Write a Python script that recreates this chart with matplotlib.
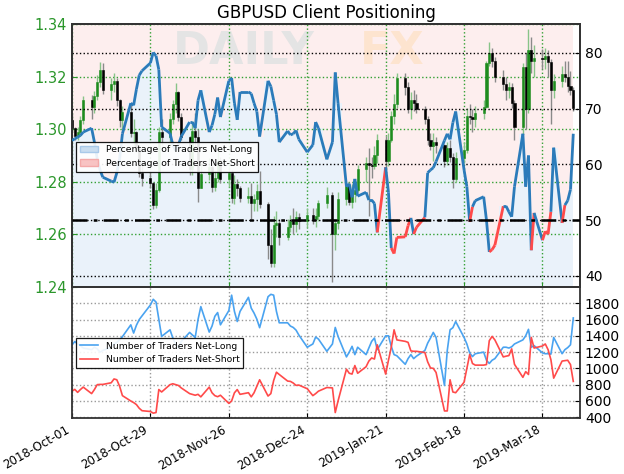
import numpy as np
import pandas as pd
import matplotlib
matplotlib.use("Agg")
import matplotlib.pyplot as plt
import matplotlib.dates as mdates
from matplotlib.collections import LineCollection
from matplotlib.patches import Patch
from matplotlib.lines import Line2D

# trading days on the chart (25 Dec and 1 Jan are missing)
days = pd.bdate_range("2018-10-01", "2019-03-29")
days = days[~days.isin(pd.to_datetime(["2018-12-25", "2019-01-01"]))]

first_open = 1.3035
close = [1.3005, 1.2975, 1.2990, 1.3035, 1.3110,
         1.3085, 1.3125, 1.3180, 1.3225, 1.3150,
         1.3170, 1.3185, 1.3110, 1.3035, 1.3065,
         1.2985, 1.2990, 1.2925, 1.2835, 1.2815,
         1.2795, 1.2710, 1.2770, 1.2990, 1.2970,
         1.3040, 1.3095, 1.3140, 1.3045, 1.2970,
         1.2850, 1.2995, 1.2970, 1.2775, 1.2830,
         1.2855, 1.2780, 1.2815, 1.2880, 1.2810,
         1.2835, 1.2740, 1.2790, 1.2775, 1.2740,
         1.2745, 1.2720, 1.2735, 1.2765, 1.2715,
         1.2560, 1.2490, 1.2635, 1.2645, 1.2590,
         1.2630, 1.2650, 1.2640, 1.2665, 1.2650,
         1.2675, 1.2660, 1.2670, 1.2720,
         1.2750, 1.2600, 1.2645, 1.2735,
         1.2785, 1.2725, 1.2755, 1.2770, 1.2850,
         1.2870, 1.2865, 1.2860, 1.2900, 1.2960,
         1.2880, 1.2960, 1.3050, 1.3095, 1.3195,
         1.3160, 1.3075, 1.3110, 1.3100, 1.3075,
         1.3040, 1.2960, 1.2935, 1.2950, 1.2940,
         1.2880, 1.2930, 1.2895, 1.2810, 1.2890,
         1.2920, 1.3050, 1.3045, 1.3040, 1.3060,
         1.3085, 1.3250, 1.3290, 1.3260, 1.3200,
         1.3170, 1.3150, 1.3160, 1.3100, 1.3010,
         1.3235, 1.3075, 1.3300, 1.3260, 1.3270,
         1.3265, 1.3280, 1.3255, 1.3150, 1.3185,
         1.3210, 1.3200, 1.3165, 1.3150, 1.3080]
high = [1.3060, 1.3010, 1.3010, 1.3050, 1.3125,
        1.3130, 1.3145, 1.3205, 1.3255, 1.3250,
        1.3195, 1.3215, 1.3195, 1.3115, 1.3090,
        1.3095, 1.3040, 1.2995, 1.2930, 1.2865,
        1.2840, 1.2800, 1.2795, 1.3010, 1.3040,
        1.3060, 1.3110, 1.3175, 1.3145, 1.3060,
        1.2975, 1.3030, 1.3060, 1.3000, 1.2870,
        1.2890, 1.2875, 1.2840, 1.2930, 1.2895,
        1.2860, 1.2845, 1.2825, 1.2810, 1.2785,
        1.2780, 1.2795, 1.2755, 1.2790, 1.2840,
        1.2725, 1.2620, 1.2670, 1.2690, 1.2660,
        1.2660, 1.2675, 1.2700, 1.2690, 1.2680,
        1.2700, 1.2700, 1.2700, 1.2730,
        1.2780, 1.2760, 1.2660, 1.2760,
        1.2800, 1.2800, 1.2790, 1.2800, 1.2865,
        1.2895, 1.2930, 1.2895, 1.2935, 1.2980,
        1.2975, 1.2985, 1.3070, 1.3135, 1.3215,
        1.3215, 1.3180, 1.3140, 1.3150, 1.3135,
        1.3090, 1.3050, 1.2985, 1.2985, 1.2970,
        1.2945, 1.2950, 1.2960, 1.2910, 1.2915,
        1.2950, 1.3080, 1.3095, 1.3075, 1.3090,
        1.3110, 1.3260, 1.3330, 1.3310, 1.3275,
        1.3225, 1.3200, 1.3180, 1.3175, 1.3110,
        1.3250, 1.3290, 1.3380, 1.3350, 1.3320,
        1.3305, 1.3310, 1.3300, 1.3265, 1.3210,
        1.3240, 1.3260, 1.3260, 1.3220, 1.3160]
low = [1.2990, 1.2960, 1.2960, 1.2975, 1.3020,
       1.3040, 1.3060, 1.3110, 1.3160, 1.3135,
       1.3110, 1.3140, 1.3090, 1.3010, 1.3000,
       1.2970, 1.2935, 1.2915, 1.2820, 1.2785,
       1.2775, 1.2695, 1.2700, 1.2760, 1.2940,
       1.2935, 1.3020, 1.3060, 1.3030, 1.2960,
       1.2825, 1.2825, 1.2930, 1.2725, 1.2775,
       1.2805, 1.2760, 1.2765, 1.2800, 1.2795,
       1.2780, 1.2720, 1.2715, 1.2745, 1.2725,
       1.2720, 1.2660, 1.2690, 1.2690, 1.2700,
       1.2505, 1.2475, 1.2475, 1.2590, 1.2560,
       1.2580, 1.2610, 1.2600, 1.2610, 1.2620,
       1.2630, 1.2640, 1.2630, 1.2650,
       1.2700, 1.2420, 1.2540, 1.2620,
       1.2710, 1.2710, 1.2700, 1.2725, 1.2760,
       1.2800, 1.2670, 1.2815, 1.2850, 1.2870,
       1.2850, 1.2860, 1.2950, 1.3020, 1.3080,
       1.3130, 1.3060, 1.3040, 1.3070, 1.3060,
       1.3020, 1.2940, 1.2920, 1.2880, 1.2910,
       1.2855, 1.2865, 1.2875, 1.2775, 1.2800,
       1.2870, 1.2910, 1.3020, 1.2990, 1.3010,
       1.3040, 1.3080, 1.3240, 1.3235, 1.3180,
       1.3150, 1.3110, 1.3120, 1.3080, 1.2960,
       1.2980, 1.3000, 1.3060, 1.3215, 1.3200,
       1.3230, 1.3230, 1.3200, 1.3020, 1.3120,
       1.3160, 1.3180, 1.3140, 1.3130, 1.3070]

# % of traders net-long
pct_long = [64.3, 64.6, 64.9, 65.2, 65.8,
            66.5, 64.0, 61.0, 59.0, 57.7,
            57.0, 56.8, 58.5, 61.0, 65.5,
            71.0, 70.6, 73.5, 76.0, 76.8,
            78.2, 80.1, 79.5, 77.0, 66.7,
            65.6, 63.5, 62.5, 63.5, 65.0,
            67.6, 67.6, 66.5, 71.5, 73.3,
            65.8, 67.0, 69.0, 72.0, 68.5,
            75.0, 75.5, 71.0, 68.0, 73.0,
            73.0, 72.7, 71.0, 69.5, 65.0,
            75.0, 74.0, 71.5, 69.0, 64.0,
            66.0, 65.3, 65.5, 66.1, 64.5,
            62.2, 63.5, 67.6, 66.5,
            60.9, 64.0, 76.5, 71.0,
            56.0, 56.5, 54.1, 57.4, 54.3,
            55.0, 53.6, 53.6, 53.0, 47.8,
            59.5, 55.0, 45.0, 44.0, 46.9,
            47.0, 49.0, 50.4, 47.5, 48.7,
            50.5, 58.5, 59.0, 59.4, 60.5,
            64.3, 65.5, 64.5, 67.5, 69.5,
            59.0, 56.0, 49.7, 52.4, 53.5,
            54.2, 50.0, 44.3, 44.7, 45.5,
            52.5, 52.5, 51.5, 50.6, 56.0,
            65.5, 56.0, 61.6, 44.6, 51.3,
            46.4, 48.0, 47.5, 51.5, 63.0,
            49.5, 52.7, 53.5, 55.5, 65.5]

n_long = [1290, 1330, 1300, 1280, 1250,
          1230, 1260, 1240, 1200, 1220,
          1260, 1300, 1320, 1350, 1390,
          1535, 1434, 1530, 1600, 1645,
          1780, 1849, 1815, 1600, 1393,
          1474, 1373, 1300, 1250, 1330,
          1442, 1410, 1380, 1600, 1759,
          1446, 1520, 1640, 1686, 1535,
          1710, 1900, 1700, 1576, 1700,
          1873, 1740, 1680, 1605, 1500,
          1881, 1910, 1900, 1700, 1560,
          1560, 1520, 1503, 1470, 1410,
          1260, 1300, 1385, 1360,
          1210, 1300, 1503, 1393,
          1141, 1200, 1271, 1169, 1260,
          1169, 1250, 1332, 1373, 1230,
          1400, 1400, 1271, 1169, 1155,
          1050, 1120, 1169, 1120, 1150,
          1220, 1310, 1373, 1442, 1380,
          790, 1220, 1474, 1500, 1576,
          1380, 1300, 1190, 1145, 1180,
          1200, 1100, 1060, 1100, 1120,
          1260, 1260, 1250, 1265, 1300,
          1350, 1400, 1480, 1260, 1280,
          1190, 1180, 1181, 1175, 1380,
          1180, 1230, 1255, 1290, 1620]
n_short = [721, 742, 705, 740, 770,
           690, 740, 800, 803, 803,
           823, 870, 860, 780, 665,
           599, 580, 555, 510, 480,
           470, 450, 457, 740, 710,
           800, 811, 800, 790, 760,
           690, 680, 670, 681, 650,
           770, 700, 665, 652, 670,
           570, 600, 700, 740, 681,
           701, 650, 700, 780, 860,
           660, 690, 850, 953, 925,
           844, 840, 820, 791, 795,
           750, 665, 690, 720,
           765, 760, 457, 600,
           990, 940, 930, 1035, 940,
           1020, 1090, 1128, 1115, 1290,
           930, 1100, 1260, 1474, 1350,
           1332, 1320, 1215, 1210, 1210,
           1195, 1080, 1006, 1000, 950,
           477, 477, 860, 710, 701,
           830, 1000, 1170, 1060, 1040,
           1040, 1047, 1340, 1393, 1350,
           1141, 1150, 1157, 1240, 1050,
           890, 960, 925, 1380, 1250,
           1275, 1300, 1230, 1108, 880,
           1090, 1095, 1100, 1047, 840]

tick_dates = ["2018-10-01", "2018-10-29", "2018-11-26", "2018-12-24",
              "2019-01-21", "2019-02-18", "2019-03-18"]

GREEN = "#1e8c1e"
BLUE = "#2b7bba"
RED = "#ff4a4a"

x = mdates.date2num(days)
close = np.array(close)
opn = np.r_[first_open, close[:-1]]
pct = np.array(pct_long)
ticks = mdates.date2num(pd.to_datetime(tick_dates))
x0 = mdates.date2num(pd.Timestamp("2018-10-01"))

fig = plt.figure(figsize=(6.24, 4.74), dpi=100)
rect_top = [0.1154, 0.3945, 0.8141, 0.5549]
ax = fig.add_axes(rect_top)
axbg = ax.twinx()
ax2 = ax.twinx()
axbg.set_zorder(1)
ax.set_zorder(2)
ax2.set_zorder(3)
ax.patch.set_visible(False)
ax2.patch.set_visible(False)

# background: share of long / short traders
axbg.fill_between(x, 0, pct, step="mid", color="#eaf2fa", lw=0)
axbg.fill_between(x, pct, 100, step="mid", color="#fdeeee", lw=0)
axbg.set_ylim(38, 85.2)
axbg.axis("off")

# watermark
ax.text(0.199, 0.895, "DAILY", transform=ax.transAxes, fontsize=32,
        fontweight="bold", color="#e4e4e4", va="center", zorder=0.5)
ax.text(0.567, 0.895, "FX", transform=ax.transAxes, fontsize=32,
        fontweight="bold", color="#fde4cf", va="center", zorder=0.5)

# candles
up = close >= opn
body_col = np.where(up, GREEN, "black")
wick_col = np.where(up, "#88c488", "#8a8a8a")
ax.vlines(x, low, high, colors=wick_col, lw=1, zorder=2)
ax.bar(x, close - opn, bottom=opn, width=0.75, color=body_col,
       edgecolor=body_col, lw=0.4, zorder=3)
ax.set_ylim(1.24, 1.34)
ax.set_yticks([1.24, 1.26, 1.28, 1.30, 1.32, 1.34])
ax.yaxis.set_major_formatter(plt.FormatStrFormatter("%.2f"))
ax.tick_params(axis="y", colors="#2a962a", labelsize=10.5, direction="in")
ax.tick_params(axis="x", colors="#2a962a", direction="in", labelbottom=False)
ax.grid(True, color="#33a033", linestyle=":", lw=1)

# percentage line, red where net-long share is below 50
pts = np.column_stack([x, pct])
segs = np.stack([pts[:-1], pts[1:]], axis=1)
seg_col = np.where(pct[:-1] < 50, RED, BLUE)
ax2.add_collection(LineCollection(segs, colors=seg_col, lw=2, zorder=4))
ax2.axhline(50, color="black", lw=1.8, linestyle=(0, (6, 2.5, 1.5, 2.5)), zorder=5)
ax2.set_ylim(38, 85.2)
ax2.set_yticks([40, 50, 60, 70, 80])
ax2.tick_params(axis="y", labelsize=10, direction="in")
ax2.grid(True, axis="y", color="black", linestyle=":", lw=1)

h1 = [Patch(facecolor="#c9ddf0", edgecolor="#a9c9e9"),
      Patch(facecolor="#f8c3c3", edgecolor="#f3a9a9")]
leg = ax2.legend(h1, ["Percentage of Traders Net-Long", "Percentage of Traders Net-Short"],
                 loc="upper left", bbox_to_anchor=(0.008, 0.553), borderaxespad=0,
                 fontsize=6.7, fancybox=False, edgecolor="black", framealpha=0.9)
leg.get_frame().set_linewidth(0.9)

ax.set_title("GBPUSD Client Positioning", fontsize=12, pad=4)

# trader counts
ax3 = fig.add_axes([0.1154, 0.1181, 0.8141, 0.2764], sharex=ax)
ax3.plot(x, n_long, color="#4aa3f0", lw=1.2)
ax3.plot(x, n_short, color=RED, lw=1.2)
ax3.set_ylim(390, 2000)
ax3.set_yticks(range(400, 2000, 200))
ax3.yaxis.tick_right()
ax3.tick_params(axis="y", labelsize=10, direction="in")
ax3.tick_params(axis="x", labelsize=8.5, direction="in")
ax3.grid(True, color="#9a9a9a", linestyle=":", lw=1)
h2 = [Line2D([], [], color="#4aa3f0", lw=1.2), Line2D([], [], color=RED, lw=1.2)]
leg2 = ax3.legend(h2, ["Number of Traders Net-Long", "Number of Traders Net-Short"],
                  loc="upper left", bbox_to_anchor=(0.008, 0.611), borderaxespad=0,
                  fontsize=6.7, fancybox=False, edgecolor="black", framealpha=0.9)
leg2.get_frame().set_linewidth(0.9)

ax3.set_xticks(ticks)
ax3.xaxis.set_major_formatter(mdates.DateFormatter("%Y-%b-%d"))
ax3.set_xlim(x0, x0 + 181.4)
for lbl in ax3.get_xticklabels():
    lbl.set_rotation(30)
    lbl.set_ha("right")

for a in (ax, ax2, ax3):
    for s in a.spines.values():
        s.set_color("#333333")
        s.set_linewidth(1.3)

fig.savefig("out.png", dpi=100)
